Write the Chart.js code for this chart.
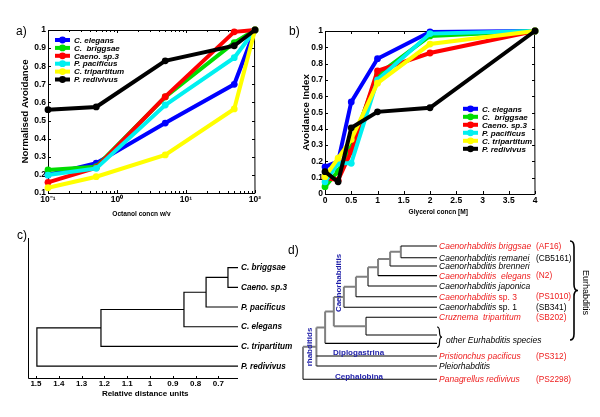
<!DOCTYPE html>
<html>
<head>
<meta charset="utf-8">
<script src="https://cdn.jsdelivr.net/npm/chart.js@4.4.1/dist/chart.umd.min.js"></script>
<style>
body { margin: 0; background: #fff; }
#fig { position: relative; width: 600px; height: 417px; overflow: hidden; font-family: 'Liberation Sans', Arial, sans-serif; }
.panel { position: absolute; }
.tag { position: absolute; font-size: 12px; line-height: 12px; color: #000; }
</style>
</head>
<body>
<div id="fig">
  <div class="panel" style="left:0;top:0;width:300px;height:225px"><canvas id="chartA"></canvas></div>
  <div class="panel" style="left:300px;top:0;width:300px;height:225px"><canvas id="chartB"></canvas></div>
  <div class="panel" style="left:0;top:225px;width:300px;height:192px"><canvas id="chartC"></canvas></div>
  <div class="panel" style="left:300px;top:230px;width:300px;height:187px"><canvas id="chartD"></canvas></div>
  <div class="tag" style="left:16px;top:25px">a)</div>
  <div class="tag" style="left:289px;top:25px">b)</div>
  <div class="tag" style="left:17px;top:229px">c)</div>
  <div class="tag" style="left:288px;top:244px">d)</div>
</div>
<script>
// species shared by panels a and b
var speciesNames = ['C. elegans', 'C.  briggsae', 'Caeno. sp.3', 'P. pacificus', 'C. tripartitum', 'P. redivivus'];
var speciesColors = ['#0000ff', '#00dd00', '#ff0000', '#00f0f0', '#ffff00', '#000000'];

// a) octanol
var octanolConc = [0.1, 0.5, 5, 50, 100];
var octElegans     = [0.20, 0.265, 0.486, 0.70, 1];
var octBriggsae    = [0.227, 0.245, 0.63, 0.93, 1];
var octSp3         = [0.159, 0.24, 0.632, 0.99, 1];
var octPacificus   = [0.199, 0.236, 0.586, 0.847, 1];
var octTripartitum = [0.129, 0.19, 0.31, 0.564, 1];
var octRedivivus   = [0.56, 0.575, 0.83, 0.913, 1];
var octanolTicks = [0.1, 1, 10, 100];
var octanolTickLabels = ['10\u207B\u00B9', '10\u2070', '10\u00B9', '10\u00B2'];

// b) glycerol
var glycerolConc = [0, 0.25, 0.5, 1, 2, 4];
var glyElegans     = [0.167, 0.20, 0.565, 0.83, 0.994, 1];
var glyBriggsae    = [0.045, 0.14, 0.29, 0.73, 0.97, 1];
var glySp3         = [0.098, 0.085, 0.26, 0.755, 0.865, 1];
var glyPacificus   = [0.075, 0.188, 0.188, 0.70, 0.984, 1];
var glyTripartitum = [0.106, 0.22, 0.335, 0.68, 0.92, 1];
var glyRedivivus   = [0.137, 0.075, 0.406, 0.504, 0.529, 1];

// c) dendrogram: leaves, then merges [childA, childB, distance]; new clusters numbered after leaves
var dendroLeaves = ['C. briggsae', 'Caeno. sp.3', 'P. pacificus', 'C. elegans', 'C. tripartitum', 'P. redivivus'];
var dendroMerges = [[0, 1, 0.658], [6, 2, 0.754], [7, 3, 0.851], [8, 4, 1.215], [9, 5, 1.496]];
var distanceTicks = [1.5, 1.4, 1.3, 1.2, 1.1, 1, 0.9, 0.8, 0.7];

// d) phylogeny: [depth, children...], leaves are indices
var cladeNames = ['Caenorhabditis briggsae', 'Caenorhabditis remanei', 'Caenorhabditis brenneri', 'Caenorhabditis  elegans',
  'Caenorhabditis japonica', 'Caenorhabditis |sp. 3', 'Caenorhabditis |sp. 1', 'Cruznema  tripartitum', '', '',
  'Pristionchus pacificus', 'Pleiorhabditis', 'Panagrellus redivivus'];
var cladeStrains = ['(AF16)', '(CB5161)', '', '(N2)', '', '(PS1010)', '(SB341)', '(SB202)', '', '', '(PS312)', '', '(PS2298)'];
var cladeStudied = [true, false, false, true, false, true, false, true, false, false, true, false, true];
var cladeTree = [0, [1.0, [1.65, [2.3, [3.05, [3.95, [4.85, [5.6, [6.5, [7.3, 0, 1], 2], 3], 4], 5], 6], [4.7, 7, 8]], 9], 10, 11], 12];
var cladeTipDepth = 10;
// row layout of the leaves (slots, uneven like the figure)
var cladeRowSlots = [0, 1.14, 1.94, 2.88, 3.88, 4.92, 5.95, 6.92, 8.64, 9.45, 10.68, 11.65, 12.94];

var FAM = "'Liberation Sans', Arial, sans-serif";
Chart.defaults.font.family = FAM;
Chart.defaults.color = '#000';
Chart.defaults.animation = false;
Chart.defaults.maintainAspectRatio = false;
Chart.defaults.plugins.legend.display = false;
Chart.defaults.plugins.tooltip.enabled = false;

const trimNum = v => String(+Number(v).toFixed(2));
const pad = n => '\u00a0'.repeat(n); // nudges a centred axis title sideways

// matlab style box + inward ticks
const axisFrame = {
  id: 'axisFrame',
  beforeDatasetsDraw(chart, args, opts) {
    const {ctx, chartArea: a, scales} = chart;
    const len = opts.len || 3;
    ctx.save();
    ctx.strokeStyle = '#000';
    ctx.lineWidth = 1;
    ctx.beginPath();
    ctx.moveTo(a.left + 0.5, a.top);
    ctx.lineTo(a.left + 0.5, a.bottom + 0.5);
    ctx.lineTo(a.right, a.bottom + 0.5);
    if (opts.box) {
      ctx.lineTo(a.right - 0.5, a.top + 0.5);
      ctx.lineTo(a.left + 0.5, a.top + 0.5);
    }
    const xMark = (v, l) => {
      const px = Math.round(scales.x.getPixelForValue(v)) + 0.5;
      ctx.moveTo(px, a.bottom); ctx.lineTo(px, a.bottom - l);
      if (opts.box) { ctx.moveTo(px, a.top); ctx.lineTo(px, a.top + l); }
    };
    const yMark = (v, l) => {
      const py = Math.round(scales.y.getPixelForValue(v)) + 0.5;
      ctx.moveTo(a.left, py); ctx.lineTo(a.left + l, py);
      if (opts.box) { ctx.moveTo(a.right, py); ctx.lineTo(a.right - l, py); }
    };
    scales.x.ticks.forEach(t => xMark(t.value, len));
    (opts.minorX || []).forEach(v => xMark(v, len - 1));
    if (opts.ticksY !== false) scales.y.ticks.forEach(t => yMark(t.value, len));
    ctx.stroke();
    ctx.restore();
  }
};

const inlineLegend = {
  id: 'inlineLegend',
  afterDatasetsDraw(chart, args, opts) {
    const {ctx, chartArea: a} = chart;
    ctx.save();
    ctx.font = 'italic bold 8px ' + FAM;
    ctx.textBaseline = 'middle';
    chart.data.datasets.forEach((ds, i) => {
      const x = a.left + opts.left, y = a.top + opts.top + i * opts.gap;
      ctx.strokeStyle = ds.borderColor;
      ctx.lineWidth = 4;
      ctx.beginPath(); ctx.moveTo(x, y); ctx.lineTo(x + 15, y); ctx.stroke();
      ctx.fillStyle = ds.borderColor;
      ctx.beginPath(); ctx.arc(x + 7.5, y, 3.4, 0, Math.PI * 2); ctx.fill();
      ctx.fillStyle = '#000';
      ctx.fillText(ds.label, x + 19, y + 0.5);
    });
    ctx.restore();
  }
};

function speciesSets(xs, series) {
  return series.map((ys, i) => ({
    label: speciesNames[i],
    data: xs.map((x, j) => ({x: x, y: ys[j]})),
    borderColor: speciesColors[i],
    backgroundColor: speciesColors[i],
    borderWidth: 4,
    pointRadius: 3.4,
    pointBorderWidth: 0,
    order: series.length - i,
    clip: false
  }));
}

const tickFont = {size: 8.5, weight: 'bold'};
const noGrid = {display: false, drawTicks: false};

// ---------- a ----------
var octMinor = [];
[0.1, 1, 10].forEach(d => { for (let k = 2; k < 10; k++) octMinor.push(d * k); });

new Chart('chartA', {
  type: 'line',
  data: {datasets: speciesSets(octanolConc, [octElegans, octBriggsae, octSp3, octPacificus, octTripartitum, octRedivivus])},
  options: {
    layout: {padding: {left: 0, top: 30, right: 45, bottom: 0}},
    scales: {
      x: {
        type: 'logarithmic', min: 0.1, max: 100,
        grid: noGrid, border: {display: false},
        afterBuildTicks: s => { s.ticks = octanolTicks.map(v => ({value: v})); },
        ticks: {autoSkip: false, maxRotation: 0, padding: 2, font: tickFont, callback: (v, i) => octanolTickLabels[i]},
        title: {display: true, text: 'Octanol concn w/v' + pad(11), font: {size: 6.6, weight: 'bold'}, padding: {top: 0, bottom: 7}},
        afterFit: s => { s.height = 32; }
      },
      y: {
        min: 0.1, max: 1,
        grid: noGrid, border: {display: false},
        ticks: {stepSize: 0.1, padding: 2, font: tickFont, callback: trimNum},
        title: {display: true, text: 'Normalised Avoidance', font: {size: 9.7, weight: 'bold'}, padding: {top: 20, bottom: 0}},
        afterFit: s => { s.width = 48; }
      }
    },
    plugins: {
      axisFrame: {box: true, len: 3, minorX: octMinor},
      inlineLegend: {left: 7, top: 10, gap: 7.9}
    }
  },
  plugins: [axisFrame, inlineLegend]
});

// ---------- b ----------
new Chart('chartB', {
  type: 'line',
  data: {datasets: speciesSets(glycerolConc, [glyElegans, glyBriggsae, glySp3, glyPacificus, glyTripartitum, glyRedivivus])},
  options: {
    layout: {padding: {left: 0, top: 31, right: 65, bottom: 0}},
    scales: {
      x: {
        type: 'linear', min: 0, max: 4,
        grid: noGrid, border: {display: false},
        ticks: {stepSize: 0.5, autoSkip: false, maxRotation: 0, padding: 2, font: tickFont, callback: trimNum},
        title: {display: true, text: pad(9) + 'Glycerol concn [M]', font: {size: 6.6, weight: 'bold'}, padding: {top: 0, bottom: 9}},
        afterFit: s => { s.height = 31; }
      },
      y: {
        min: 0, max: 1,
        grid: noGrid, border: {display: false},
        ticks: {stepSize: 0.1, padding: 2, font: tickFont, callback: trimNum},
        title: {display: true, text: 'Avoidance Index', font: {size: 9.7, weight: 'bold'}, padding: {top: 1, bottom: 0}},
        afterFit: s => { s.width = 25; }
      }
    },
    plugins: {
      axisFrame: {box: true, len: 3},
      inlineLegend: {left: 138, top: 77.8, gap: 8}
    }
  },
  plugins: [axisFrame, inlineLegend]
});

// ---------- c ----------
var distMin = 0.614, distMax = 1.535;
function dendroSegments() {
  const pos = dendroLeaves.map((n, i) => ({x: distMin, y: i}));
  const pts = [];
  dendroMerges.forEach(([a, b, d]) => {
    const pa = pos[a], pb = pos[b];
    pts.push({x: pa.x, y: pa.y}, {x: d, y: pa.y}, {x: d, y: pb.y}, {x: pb.x, y: pb.y}, {x: d, y: null});
    pos.push({x: d, y: (pa.y + pb.y) / 2});
  });
  return pts;
}

const leafLabels = {
  id: 'leafLabels',
  afterDatasetsDraw(chart) {
    const {ctx, chartArea: a, scales} = chart;
    ctx.save();
    ctx.font = 'italic bold 8.2px ' + FAM;
    ctx.textBaseline = 'middle';
    ctx.fillStyle = '#000';
    dendroLeaves.forEach((n, i) => ctx.fillText(n, a.right + 3, scales.y.getPixelForValue(i) + 0.5));
    ctx.restore();
  }
};

new Chart('chartC', {
  type: 'scatter',
  data: {datasets: [{data: dendroSegments(), showLine: true, borderColor: '#000', borderWidth: 1.2, pointRadius: 0, clip: false}]},
  options: {
    layout: {padding: {left: 28, top: 13, right: 62, bottom: 17}},
    scales: {
      x: {
        type: 'linear', reverse: true, min: distMin, max: distMax,
        grid: noGrid, border: {display: false},
        afterBuildTicks: s => { s.ticks = distanceTicks.map(v => ({value: v})); },
        ticks: {autoSkip: false, maxRotation: 0, padding: 1, font: {size: 8, weight: 'bold'}, callback: trimNum},
        title: {display: true, text: pad(11) + 'Relative distance units', font: {size: 8, weight: 'bold'}, padding: {top: 0, bottom: 1}},
        afterFit: s => { s.height = 22; }
      },
      y: {
        min: -1.5, max: 5.6, reverse: true,
        grid: noGrid, border: {display: false}, ticks: {display: false},
        afterFit: s => { s.width = 0; }
      }
    },
    plugins: {axisFrame: {box: false, len: 2, ticksY: false}}
  },
  plugins: [axisFrame, leafLabels]
});

// ---------- d ----------
function cladeSegments() {
  const segs = {inner: [], tip: []};
  const walk = node => {
    if (typeof node === 'number') return {x: cladeTipDepth, y: cladeRowSlots[node], leaf: true};
    const depth = node[0];
    const kids = node.slice(1).map(walk);
    const ys = kids.map(k => k.y);
    const lo = Math.min(...ys), hi = Math.max(...ys);
    segs.inner.push({x: depth, y: lo}, {x: depth, y: hi}, {x: depth, y: null});
    kids.forEach(k => (k.leaf ? segs.tip : segs.inner).push({x: depth, y: k.y}, {x: k.x, y: k.y}, {x: k.x, y: null}));
    return {x: depth, y: (lo + hi) / 2};
  };
  walk(cladeTree);
  return segs;
}
var cladeSegs = cladeSegments();

function drawBrace(ctx, x, y1, y2, w) {
  const ym = (y1 + y2) / 2, r = Math.min(6, (y2 - y1) / 4), xm = x + w / 2;
  ctx.beginPath();
  ctx.moveTo(x, y1);
  ctx.quadraticCurveTo(xm, y1, xm, y1 + r);
  ctx.lineTo(xm, ym - r);
  ctx.quadraticCurveTo(xm, ym, x + w, ym);
  ctx.quadraticCurveTo(xm, ym, xm, ym + r);
  ctx.lineTo(xm, y2 - r);
  ctx.quadraticCurveTo(xm, y2, x, y2);
  ctx.stroke();
}

const cladeText = {
  id: 'cladeText',
  afterDatasetsDraw(chart) {
    const {ctx, scales} = chart;
    const tipX = scales.x.getPixelForValue(cladeTipDepth);
    const red = '#ee1c1c', blue = '#1c1ca8';
    ctx.save();
    ctx.textBaseline = 'middle';
    cladeNames.forEach((name, i) => {
      const y = scales.y.getPixelForValue(cladeRowSlots[i]) + 0.5;
      ctx.fillStyle = cladeStudied[i] ? red : '#000';
      if (name) {
        const parts = name.split('|');
        ctx.font = 'italic 8.5px ' + FAM;
        ctx.fillText(parts[0], tipX + 2, y);
        if (parts[1]) {
          const w = ctx.measureText(parts[0]).width;
          ctx.font = '8.5px ' + FAM;
          ctx.fillText(parts[1], tipX + 2 + w, y);
        }
      }
      if (cladeStrains[i]) {
        ctx.font = '8.3px ' + FAM;
        ctx.fillText(cladeStrains[i], tipX + 99, y);
      }
    });
    // other Eurhabditis species
    const yo1 = scales.y.getPixelForValue(cladeRowSlots[8]), yo2 = scales.y.getPixelForValue(cladeRowSlots[9]);
    ctx.strokeStyle = '#000';
    ctx.lineWidth = 1.2;
    drawBrace(ctx, tipX, yo1 - 8, yo2 + 4, 5);
    ctx.fillStyle = '#000';
    ctx.font = 'italic 8.5px ' + FAM;
    ctx.fillText('other Eurhabditis species', tipX + 9, (yo1 + yo2) / 2 + 1.5);
    // Eurhabditis brace
    const yTop = scales.y.getPixelForValue(cladeRowSlots[0]) - 5;
    const yBot = scales.y.getPixelForValue(cladeRowSlots[8]) + 5;
    ctx.lineWidth = 1.6;
    drawBrace(ctx, 270, yTop, yBot, 8);
    ctx.save();
    ctx.translate(285.5, (yTop + yBot) / 2 + 2);
    ctx.rotate(Math.PI / 2);
    ctx.font = '9px ' + FAM;
    ctx.textAlign = 'center';
    ctx.fillText('Eurhabditis', 0, 0);
    ctx.restore();
    // group names
    ctx.fillStyle = blue;
    ctx.font = 'bold 8px ' + FAM;
    ctx.fillText('Diplogastrina', 33, 122.5);
    ctx.fillText('Cephalobina', 35, 147);
    ctx.textAlign = 'center';
    [['Caenorhabditis', 39, 53], ['rhabditids', 9.5, 117]].forEach(([t, x, y]) => {
      ctx.save();
      ctx.translate(x, y);
      ctx.rotate(-Math.PI / 2);
      ctx.fillText(t, 0, 0);
      ctx.restore();
    });
    ctx.restore();
  }
};

new Chart('chartD', {
  type: 'scatter',
  data: {datasets: [
    {data: cladeSegs.tip, showLine: true, borderColor: '#000', borderWidth: 1.1, pointRadius: 0, clip: false},
    {data: cladeSegs.inner, showLine: true, borderColor: '#808080', borderWidth: 2, pointRadius: 0, clip: false}
  ]},
  options: {
    layout: {padding: {left: 3, top: 0, right: 0, bottom: 0}},
    scales: {
      x: {display: false, min: 0, max: 22.16},
      y: {display: false, min: -1.553, max: 16.6, reverse: true}
    }
  },
  plugins: [cladeText]
});
</script>
</body>
</html>
